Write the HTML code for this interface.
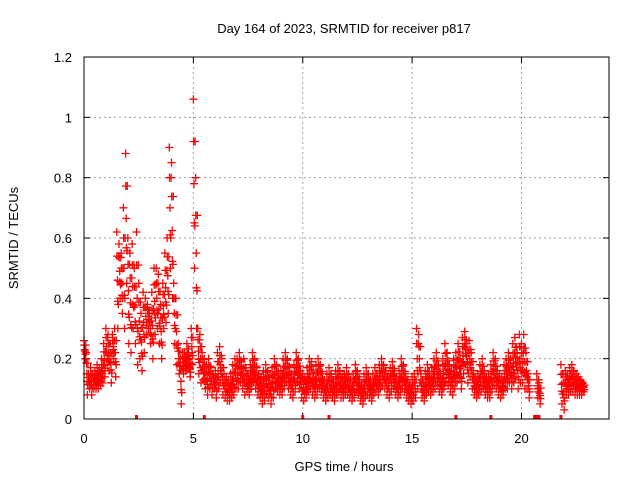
<!DOCTYPE html>
<html><head><meta charset="utf-8"><style>
html,body{margin:0;padding:0;background:#fff}
svg{display:block;font-family:"Liberation Sans",sans-serif;font-size:13px}
</style></head><body>
<svg id="c" width="640" height="480" viewBox="0 0 640 480">
<text x="344" y="33" text-anchor="middle">Day 164 of 2023, SRMTID for receiver p817</text>
<text x="344" y="471" text-anchor="middle">GPS time / hours</text>
<text x="18" y="238" text-anchor="middle" transform="rotate(-90 18 238)">SRMTID / TECUs</text>
<g id="grid"></g>
<g id="ticks"></g>
<g id="pts"></g>
<rect x="84" y="57" width="525" height="362" fill="none" stroke="#000" stroke-width="1"/>
</svg>
<script>
const xTicks=[0,5,10,15,20];
const yTicks=[0,0.2,0.4,0.6,0.8,1,1.2];
const yTickLabels=["0","0.2","0.4","0.6","0.8","1","1.2"];
const tStart=0, tStep=0.1;
const hi=[.26,.22,.15,.17,.15,.16,.18,.17,.2,.25,
.3,.28,.25,.28,.3,.62,.58,.55,.7,.88,
.6,.55,.58,.5,.62,.45,.35,.42,.4,.38,
.35,.42,.5,.5,.48,.38,.45,.55,.6,.9,
.85,.45,.4,.25,.2,.22,.22,.25,.2,.3,
1.06,.8,.3,.28,.22,.2,.18,.2,.17,.15,
.16,.22,.24,.2,.15,.14,.13,.15,.18,.2,
.2,.22,.19,.2,.17,.15,.18,.22,.2,.17,
.15,.14,.16,.18,.16,.14,.17,.2,.18,.15,
.16,.2,.22,.2,.17,.15,.18,.22,.2,.16,
.15,.14,.17,.2,.19,.15,.18,.2,.18,.15,
.13,.15,.17,.15,.13,.16,.18,.16,.14,.15,
.17,.15,.13,.15,.18,.16,.13,.12,.15,.17,
.15,.13,.15,.17,.15,.18,.2,.18,.16,.15,
.17,.19,.16,.14,.16,.2,.18,.15,.13,.12,
.14,.15,.3,.28,.15,.13,.16,.18,.15,.17,
.2,.22,.18,.15,.2,.25,.22,.18,.16,.2,
.22,.25,.2,.27,.29,.25,.26,.22,.16,.14,
.15,.18,.2,.16,.14,.15,.18,.22,.2,.16,
.15,.14,.18,.2,.22,.2,.25,.27,.22,.28,
.25,.28,.22,.15,null,null,null,.15,.12,null,
null,null,null,null,null,null,null,null,.18,.15,
.16,.15,.17,.18,.16,.15,.14,.13,.12];
const lo=[.2,.08,.1,.08,.1,.1,.1,.11,.12,.14,
.18,.16,.12,.2,.14,.3,.4,.35,.3,.45,
.25,.22,.3,.25,.18,.2,.16,.22,.28,.3,
.25,.2,.28,.3,.25,.2,.3,.32,.35,.5,
.4,.25,.18,.15,.05,.15,.16,.18,.14,.18,
.5,.3,.15,.12,.13,.1,.08,.1,.08,.1,
.07,.1,.12,.08,.07,.06,.06,.07,.08,.1,
.1,.12,.1,.08,.09,.08,.1,.12,.1,.08,
.07,.05,.06,.08,.07,.05,.07,.1,.09,.08,
.08,.1,.12,.1,.08,.07,.09,.12,.1,.07,
.06,.07,.09,.1,.08,.07,.08,.1,.09,.07,
.06,.07,.08,.07,.06,.08,.09,.07,.07,.08,
.08,.07,.06,.07,.09,.08,.06,.05,.07,.08,
.07,.06,.08,.09,.08,.1,.11,.1,.08,.07,
.09,.1,.08,.07,.08,.1,.09,.07,.06,.05,
.06,.07,.1,.12,.07,.06,.08,.09,.08,.09,
.1,.11,.09,.08,.1,.12,.11,.09,.08,.1,
.12,.14,.1,.15,.18,.12,.14,.1,.08,.07,
.08,.09,.1,.08,.07,.07,.09,.11,.1,.08,
.07,.08,.1,.1,.12,.1,.12,.14,.1,.12,
.12,.1,.1,.07,null,null,null,.07,.05,null,
null,null,null,null,null,null,null,null,.05,.03,
.08,.08,.09,.09,.08,.08,.08,.08,.09];
const zeroTimes=[2.4,5.5,10.0,11.2,17.0,18.6,20.6,20.7,20.8,21.8];

const NS="http://www.w3.org/2000/svg";
const X0=84,X1=609,Y0=419,Y1=57,XMAX=24,YMAX=1.2;
const xs=t=>X0+(t/XMAX)*(X1-X0);
const ys=v=>Y0-(v/YMAX)*(Y0-Y1);
const grid=document.getElementById('grid'),ticks=document.getElementById('ticks'),pts=document.getElementById('pts');
function mk(tag,attrs,parent){const e=document.createElementNS(NS,tag);for(const k in attrs)e.setAttribute(k,attrs[k]);parent.appendChild(e);return e;}
yTicks.forEach((v,i)=>{
  const y=ys(v);
  if(i>0&&i<yTicks.length-1){const g=mk('line',{x1:X0,x2:X1,y1:y,y2:y,stroke:'#a0a0a0','stroke-dasharray':'2,3'},grid);
  
  }
  const t=mk('line',{x1:X0,x2:X0+6,y1:y,y2:y,stroke:'#000'},ticks);
  
  
  mk('line',{x1:X1-6,x2:X1,y1:y,y2:y,stroke:'#000'},ticks);
  const l=mk('text',{x:72,y:y+5,'text-anchor':'end'},ticks);l.textContent=yTickLabels[i];
  
  
});
xTicks.forEach(v=>{
  const x=xs(v);
  if(v>0){const g=mk('line',{x1:x,x2:x,y1:Y1,y2:Y0,stroke:'#a0a0a0','stroke-dasharray':'2,3'},grid);
  
  }
  const t=mk('line',{x1:x,x2:x,y1:Y0,y2:Y0-6,stroke:'#000'},ticks);
  
  
  mk('line',{x1:x,x2:x,y1:Y1,y2:Y1+6,stroke:'#000'},ticks);
  const l=mk('text',{x:x,y:443,'text-anchor':'middle'},ticks);l.textContent=String(v);
  
  
});
let d='';
function cross(t,v){const x=xs(t),y=ys(v);d+=`M${(x-4).toFixed(1)} ${y.toFixed(1)}h8M${x.toFixed(1)} ${(y-4).toFixed(1)}v8`;}
for(let i=0;i<hi.length;i++){
  if(hi[i]==null)continue;
  const t=tStart+i*tStep;
  const h=hi[i],l=lo[i],m=(h+l)/2;
  cross(t,h);cross(t+0.05,l);cross(t+0.03,m);cross(t+0.07,(m+l)/2);cross(t+0.01,(m+h)/2);
  cross(t+0.08,(m+h)/2);cross(t+0.04,(3*l+h)/4+0.01);
}
const p=mk('path',{d:d,stroke:'#ff0000','stroke-width':1.3,fill:'none'},pts);


zeroTimes.forEach(t=>{
  const r=mk('rect',{x:xs(t)-1.5,y:Y0-4,width:3,height:4,fill:'#ff0000'},pts);
  
  
});
</script>
</body></html>
